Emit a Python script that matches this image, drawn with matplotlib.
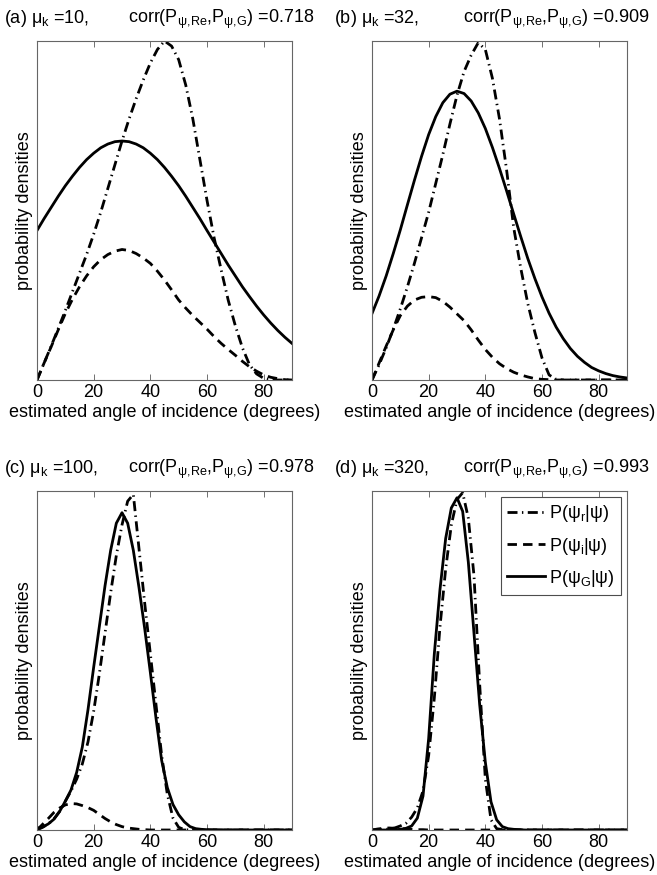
# IMPORT LIBRARY
import matplotlib
matplotlib.use("Agg")
import matplotlib.pyplot as plt

plt.rcParams['font.family'] = ['Liberation Sans', 'DejaVu Sans']
plt.rcParams['mathtext.fontset'] = 'custom'
plt.rcParams['mathtext.rm'] = 'Liberation Sans'
plt.rcParams['mathtext.it'] = 'Liberation Sans:italic'
plt.rcParams['mathtext.default'] = 'regular'


# DATA (densities, scaled so the axes top = 1)
angle_ab = [0, 2.5, 5, 7.5, 10, 12.5, 15, 17.5, 20, 22.5, 25, 27.5, 30, 32.5,
            35, 37.5, 40, 42.5, 45, 47.5, 50, 52.5, 55, 57.5, 60, 62.5, 65,
            67.5, 70, 72.5, 75, 77.5, 80, 82.5, 85, 87.5, 90]
angle_cd = [0, 2, 4, 6, 8, 10, 12, 14, 16, 18, 20, 22, 24, 26, 28, 30, 32, 34,
            36, 38, 40, 42, 44, 46, 48, 50, 52, 54, 56, 58, 60, 65, 70, 75, 80,
            85, 90]

# (a) mu_k = 10
a_r = [0, 0.05, 0.10, 0.152, 0.205, 0.26, 0.315, 0.37, 0.43, 0.495, 0.565,
       0.635, 0.705, 0.77, 0.83, 0.885, 0.935, 0.975, 1.0, 0.985, 0.945, 0.87,
       0.77, 0.65, 0.53, 0.42, 0.325, 0.235, 0.16, 0.095, 0.045, 0.018, 0.005,
       0.001, 0, 0, 0]
a_i = [0, 0.05, 0.098, 0.148, 0.196, 0.238, 0.275, 0.307, 0.334, 0.355, 0.370,
       0.380, 0.385, 0.382, 0.373, 0.360, 0.344, 0.321, 0.295, 0.266, 0.236,
       0.212, 0.19, 0.17, 0.15, 0.128, 0.108, 0.09, 0.073, 0.055, 0.039, 0.026,
       0.015, 0.008, 0.004, 0.001, 0]
a_g = [0.441, 0.476, 0.509, 0.542, 0.573, 0.601, 0.627, 0.650, 0.669, 0.685,
       0.696, 0.703, 0.705, 0.703, 0.696, 0.685, 0.669, 0.650, 0.627, 0.601,
       0.573, 0.542, 0.509, 0.476, 0.441, 0.407, 0.373, 0.339, 0.307, 0.275,
       0.246, 0.218, 0.192, 0.168, 0.146, 0.126, 0.108]

# (b) mu_k = 32
b_r = [0, 0.045, 0.095, 0.15, 0.21, 0.275, 0.345, 0.42, 0.495, 0.58, 0.665,
       0.755, 0.84, 0.91, 0.958, 0.995, 0.975, 0.89, 0.77, 0.62, 0.45, 0.33,
       0.225, 0.14, 0.065, 0.015, 0.002, 0, 0, 0, 0, 0, 0, 0, 0, 0, 0]
b_i = [0, 0.05, 0.1, 0.148, 0.19, 0.218, 0.236, 0.244, 0.246, 0.243, 0.232,
       0.215, 0.195, 0.175, 0.148, 0.118, 0.09, 0.067, 0.048, 0.034, 0.023,
       0.015, 0.009, 0.004, 0.002, 0.001, 0, 0, 0, 0, 0, 0, 0, 0, 0, 0, 0]
b_g = [0.196, 0.248, 0.307, 0.373, 0.443, 0.517, 0.590, 0.660, 0.724, 0.777,
       0.818, 0.843, 0.852, 0.845, 0.823, 0.788, 0.742, 0.686, 0.624, 0.558,
       0.490, 0.423, 0.358, 0.299, 0.245, 0.197, 0.156, 0.122, 0.093, 0.070,
       0.052, 0.037, 0.027, 0.019, 0.013, 0.009, 0.006]

# (c) mu_k = 100
c_r = [0, 0.008, 0.018, 0.033, 0.055, 0.085, 0.115, 0.15, 0.195, 0.26, 0.35,
       0.46, 0.58, 0.70, 0.81, 0.90, 0.97, 0.99, 0.83, 0.67, 0.52, 0.37, 0.22,
       0.105, 0.035, 0.008, 0.001, 0, 0, 0, 0, 0, 0, 0, 0, 0, 0]
c_i = [0, 0.017, 0.034, 0.052, 0.065, 0.074, 0.078, 0.077, 0.072, 0.066,
       0.058, 0.046, 0.034, 0.024, 0.016, 0.010, 0.006, 0.004, 0.002, 0.001,
       0, 0, 0, 0, 0, 0, 0, 0, 0, 0, 0, 0, 0, 0, 0, 0, 0]
c_g = [0.005, 0.009, 0.018, 0.032, 0.055, 0.085, 0.118, 0.17, 0.245, 0.355,
       0.48, 0.6, 0.72, 0.825, 0.905, 0.936, 0.905, 0.825, 0.715, 0.595, 0.465,
       0.33, 0.205, 0.125, 0.075, 0.045, 0.024, 0.01, 0.004, 0.002, 0.001,
       0, 0, 0, 0, 0, 0]

# (d) mu_k = 320
d_r = [0, 0, 0.001, 0.003, 0.006, 0.012, 0.02, 0.038, 0.065, 0.115, 0.22,
       0.39, 0.6, 0.77, 0.9, 0.975, 0.995, 0.92, 0.75, 0.43, 0.15, 0.03, 0.004,
       0.001, 0, 0, 0, 0, 0, 0, 0, 0, 0, 0, 0, 0, 0]
d_i = [0, 0.003, 0.005, 0.006, 0.005, 0.004, 0.003, 0.002, 0.001, 0.001, 0,
       0, 0, 0, 0, 0, 0, 0, 0, 0, 0, 0, 0, 0, 0, 0, 0, 0, 0, 0, 0, 0, 0, 0, 0,
       0, 0]
d_g = [0, 0, 0, 0, 0.001, 0.002, 0.005, 0.012, 0.035, 0.1, 0.27, 0.52, 0.71,
       0.86, 0.95, 0.98, 0.94, 0.79, 0.58, 0.37, 0.2, 0.083, 0.03, 0.01, 0.004,
       0.002, 0.001, 0, 0, 0, 0, 0, 0, 0, 0, 0, 0]

panel_letters = ['a', 'b', 'c', 'd']
mu_k = ['10', '32', '100', '320']
corr_values = ['0.718', '0.909', '0.978', '0.993']
x_ticks = [0, 20, 40, 60, 80]
legend_labels = [r'$P(\psi_r|\psi)$', r'$P(\psi_i|\psi)$', r'$P(\psi_G|\psi)$']


# FUNCTIONS
def draw_panel(ax, angle, p_r, p_i, p_g, letter, mu, corr, title_x, legend=False):
    fs = 13
    ax.plot(angle, p_r, color='black', lw=2.0, dashes=(3.6, 1.6, 0.5, 1.6),
            label=legend_labels[0])
    ax.plot(angle, p_i, color='black', lw=2.0, dashes=(3.4, 2.2),
            label=legend_labels[1])
    ax.plot(angle, p_g, color='black', lw=2.0, linestyle='-',
            label=legend_labels[2])

    ax.set_xlim(0, 90)
    ax.set_ylim(0, 1.0)
    ax.set_xticks(x_ticks)
    ax.set_yticks([])
    ax.tick_params(axis='x', direction='in', top=True, length=4, width=0.6,
                   labelsize=13, pad=3, color='0.35')
    for sp in ax.spines.values():
        sp.set_color('0.4')
        sp.set_linewidth(0.8)

    ax.set_xlabel('estimated angle of incidence (degrees)', fontsize=fs,
                  labelpad=2)
    ax.set_ylabel('probability densities', fontsize=fs, labelpad=3)

    # title in two parts, the corr part lines up across panels
    ax.text(title_x, 1.052, r'(%s) $\mu_k$ =%s,' % (letter, mu),
            transform=ax.transAxes, fontsize=fs, ha='left', va='baseline')
    ax.text(0.357, 1.052, r'corr($P_{\psi,\!Re}$,$P_{\psi,\!G}$) =' + corr,
            transform=ax.transAxes, fontsize=fs, ha='left', va='baseline')

    if legend:
        leg = ax.legend(loc='upper right', bbox_to_anchor=(0.976, 0.982),
                        borderaxespad=0, fontsize=fs, handlelength=2.1,
                        handletextpad=0.2, labelspacing=0.62,
                        fancybox=False, framealpha=1, borderpad=0.35)
        leg.get_frame().set_edgecolor('0.3')
        leg.get_frame().set_linewidth(0.8)


def execute():
    fig = plt.figure(figsize=(6.57, 8.75), dpi=100)

    w = 255 / 657
    h = 339 / 875
    ax_a = fig.add_axes([37 / 657, 1 - 380 / 875, w, h])
    ax_b = fig.add_axes([372 / 657, 1 - 380 / 875, w, h])
    ax_c = fig.add_axes([37 / 657, 1 - 830 / 875, w, h])
    ax_d = fig.add_axes([372 / 657, 1 - 830 / 875, w, h])

    draw_panel(ax_a, angle_ab, a_r, a_i, a_g, panel_letters[0], mu_k[0],
               corr_values[0], -0.13)
    draw_panel(ax_b, angle_ab, b_r, b_i, b_g, panel_letters[1], mu_k[1],
               corr_values[1], -0.148)
    draw_panel(ax_c, angle_cd, c_r, c_i, c_g, panel_letters[2], mu_k[2],
               corr_values[2], -0.13)
    draw_panel(ax_d, angle_cd, d_r, d_i, d_g, panel_letters[3], mu_k[3],
               corr_values[3], -0.148, legend=True)

    fig.savefig('out.png', dpi=100)


# EXECUTE
if __name__ == "__main__":
    execute()
